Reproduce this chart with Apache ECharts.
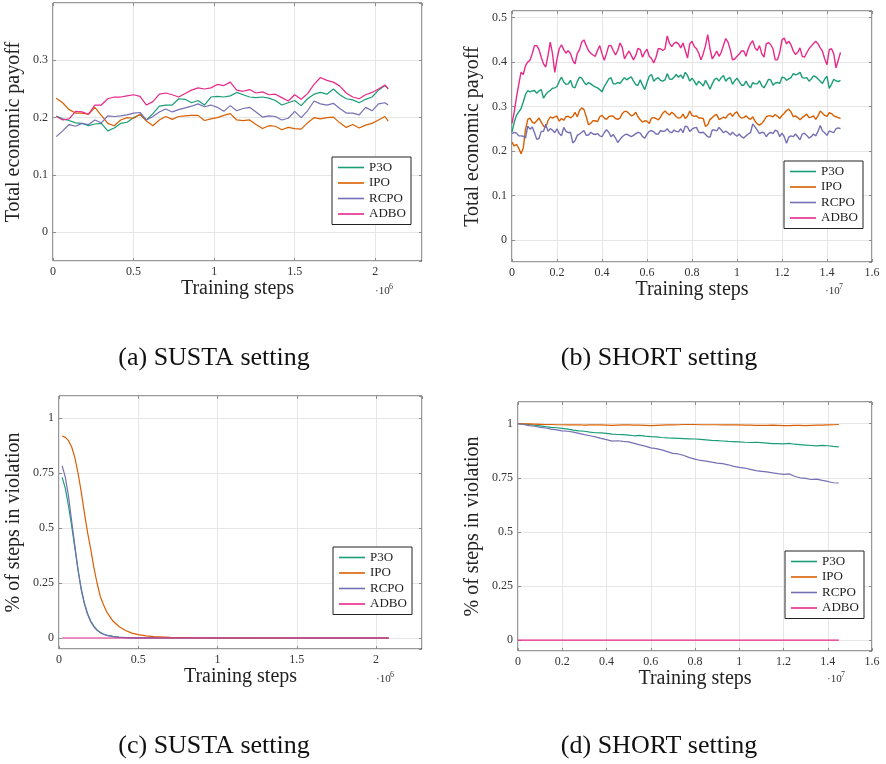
<!DOCTYPE html>
<html>
<head>
<meta charset="utf-8">
<script src="https://cdn.jsdelivr.net/npm/echarts@6/dist/echarts.min.js"></script>
<style>
  html, body { margin: 0; padding: 0; background: #fff; }
  #chart { width: 886px; height: 764px; }
</style>
</head>
<body>
<div id="chart"></div>
<script>
// (a) SUSTA - payoff, x in 1e6 steps
var sustaSteps = [0.02, 0.06, 0.10, 0.14, 0.18, 0.22, 0.26, 0.30, 0.34, 0.38, 0.42, 0.46, 0.50, 0.54, 0.58, 0.62, 0.66, 0.70, 0.74, 0.78,
  0.82, 0.86, 0.90, 0.94, 0.98, 1.02, 1.06, 1.10, 1.14, 1.18, 1.22, 1.26, 1.30, 1.34, 1.38, 1.42, 1.46, 1.50, 1.54, 1.58,
  1.62, 1.66, 1.70, 1.74, 1.78, 1.82, 1.86, 1.90, 1.94, 1.98, 2.02, 2.06, 2.08];
var sustaPayP3O = [0.203, 0.198, 0.195, 0.191, 0.190, 0.186, 0.189, 0.190, 0.177, 0.182, 0.190, 0.192, 0.200, 0.205, 0.196, 0.207, 0.220, 0.222, 0.222, 0.233,
  0.232, 0.226, 0.230, 0.222, 0.236, 0.237, 0.236, 0.238, 0.244, 0.240, 0.236, 0.235, 0.236, 0.234, 0.230, 0.222, 0.226, 0.230, 0.221, 0.233,
  0.241, 0.244, 0.241, 0.250, 0.240, 0.233, 0.231, 0.226, 0.232, 0.236, 0.248, 0.256, 0.251];
var sustaPayIPO = [0.234, 0.226, 0.214, 0.208, 0.208, 0.206, 0.218, 0.204, 0.190, 0.186, 0.196, 0.200, 0.199, 0.206, 0.194, 0.186, 0.196, 0.202, 0.197, 0.202,
  0.203, 0.204, 0.204, 0.195, 0.198, 0.200, 0.204, 0.207, 0.196, 0.195, 0.196, 0.188, 0.181, 0.186, 0.185, 0.179, 0.183, 0.181, 0.180, 0.191,
  0.200, 0.198, 0.200, 0.201, 0.191, 0.183, 0.188, 0.182, 0.187, 0.190, 0.196, 0.202, 0.194];
var sustaPayRCPO = [0.167, 0.177, 0.188, 0.185, 0.190, 0.188, 0.196, 0.191, 0.203, 0.202, 0.203, 0.205, 0.208, 0.209, 0.196, 0.202, 0.210, 0.215, 0.210, 0.214,
  0.217, 0.220, 0.224, 0.219, 0.222, 0.218, 0.211, 0.221, 0.212, 0.216, 0.218, 0.210, 0.201, 0.203, 0.202, 0.196, 0.199, 0.211, 0.200, 0.212,
  0.229, 0.224, 0.222, 0.225, 0.216, 0.208, 0.208, 0.205, 0.218, 0.212, 0.224, 0.226, 0.222];
var sustaPayADBO = [0.202, 0.196, 0.198, 0.211, 0.210, 0.206, 0.222, 0.222, 0.233, 0.236, 0.236, 0.238, 0.240, 0.237, 0.222, 0.228, 0.241, 0.243, 0.240, 0.236,
  0.242, 0.248, 0.252, 0.250, 0.252, 0.258, 0.256, 0.262, 0.248, 0.246, 0.249, 0.243, 0.245, 0.240, 0.241, 0.235, 0.229, 0.240, 0.232, 0.242,
  0.258, 0.270, 0.265, 0.262, 0.255, 0.243, 0.236, 0.233, 0.240, 0.244, 0.250, 0.257, 0.250];

// (b) SHORT - payoff, x in 1e7 steps
var shortSteps = [
  0.00, 0.01, 0.02, 0.03, 0.04, 0.05, 0.06, 0.07, 0.08, 0.09,
  0.10, 0.11, 0.12, 0.13, 0.14, 0.15, 0.16, 0.17, 0.18, 0.19,
  0.20, 0.21, 0.22, 0.23, 0.24, 0.25, 0.26, 0.27, 0.28, 0.29,
  0.30, 0.31, 0.32, 0.33, 0.34, 0.35, 0.36, 0.37, 0.38, 0.39,
  0.40, 0.41, 0.42, 0.43, 0.44, 0.45, 0.46, 0.47, 0.48, 0.49,
  0.50, 0.51, 0.52, 0.53, 0.54, 0.55, 0.56, 0.57, 0.58, 0.59,
  0.60, 0.61, 0.62, 0.63, 0.64, 0.65, 0.66, 0.67, 0.68, 0.69,
  0.70, 0.71, 0.72, 0.73, 0.74, 0.75, 0.76, 0.77, 0.78, 0.79,
  0.80, 0.81, 0.82, 0.83, 0.84, 0.85, 0.86, 0.87, 0.88, 0.89,
  0.90, 0.91, 0.92, 0.93, 0.94, 0.95, 0.96, 0.97, 0.98, 0.99,
  1.00, 1.01, 1.02, 1.03, 1.04, 1.05, 1.06, 1.07, 1.08, 1.09,
  1.10, 1.11, 1.12, 1.13, 1.14, 1.15, 1.16, 1.17, 1.18, 1.19,
  1.20, 1.21, 1.22, 1.23, 1.24, 1.25, 1.26, 1.27, 1.28, 1.29,
  1.30, 1.31, 1.32, 1.33, 1.34, 1.35, 1.36, 1.37, 1.38, 1.39,
  1.40, 1.41, 1.42, 1.43, 1.44, 1.45, 1.46];
var shortPayP3O = [
  0.243, 0.265, 0.280, 0.288, 0.295, 0.310, 0.327, 0.336, 0.333, 0.335,
  0.336, 0.330, 0.335, 0.338, 0.319, 0.327, 0.333, 0.336, 0.341, 0.342,
  0.345, 0.357, 0.366, 0.355, 0.350, 0.351, 0.359, 0.344, 0.342, 0.356,
  0.366, 0.364, 0.355, 0.349, 0.354, 0.351, 0.347, 0.344, 0.342, 0.338,
  0.333, 0.345, 0.353, 0.362, 0.365, 0.351, 0.351, 0.354, 0.352, 0.359,
  0.365, 0.360, 0.364, 0.367, 0.357, 0.349, 0.348, 0.360, 0.348, 0.338,
  0.354, 0.368, 0.372, 0.357, 0.362, 0.365, 0.359, 0.357, 0.360, 0.374,
  0.362, 0.361, 0.366, 0.372, 0.366, 0.371, 0.363, 0.377, 0.370, 0.357,
  0.364, 0.357, 0.348, 0.357, 0.352, 0.346, 0.359, 0.350, 0.339, 0.351,
  0.361, 0.364, 0.357, 0.365, 0.370, 0.357, 0.363, 0.365, 0.350, 0.358,
  0.364, 0.356, 0.348, 0.348, 0.357, 0.348, 0.342, 0.354, 0.351, 0.351,
  0.358, 0.347, 0.342, 0.351, 0.361, 0.360, 0.348, 0.353, 0.354, 0.352,
  0.366, 0.365, 0.359, 0.362, 0.365, 0.374, 0.371, 0.373, 0.377, 0.365,
  0.364, 0.365, 0.357, 0.362, 0.369, 0.367, 0.362, 0.357, 0.352, 0.362,
  0.368, 0.341, 0.350, 0.361, 0.358, 0.356, 0.359];
var shortPayIPO = [
  0.220, 0.211, 0.215, 0.206, 0.194, 0.206, 0.248, 0.271, 0.274, 0.265,
  0.262, 0.268, 0.274, 0.265, 0.256, 0.253, 0.268, 0.277, 0.274, 0.277,
  0.278, 0.267, 0.273, 0.269, 0.277, 0.278, 0.274, 0.278, 0.287, 0.277,
  0.291, 0.297, 0.293, 0.277, 0.259, 0.262, 0.268, 0.268, 0.266, 0.277,
  0.280, 0.274, 0.271, 0.277, 0.279, 0.278, 0.273, 0.271, 0.274, 0.284,
  0.289, 0.289, 0.284, 0.279, 0.281, 0.287, 0.277, 0.270, 0.265, 0.268,
  0.267, 0.262, 0.274, 0.275, 0.273, 0.270, 0.276, 0.285, 0.290, 0.285,
  0.281, 0.287, 0.283, 0.277, 0.274, 0.275, 0.283, 0.273, 0.278, 0.290,
  0.280, 0.278, 0.279, 0.274, 0.274, 0.273, 0.255, 0.259, 0.271, 0.275,
  0.280, 0.282, 0.271, 0.273, 0.276, 0.274, 0.281, 0.285, 0.278, 0.285,
  0.288, 0.278, 0.274, 0.275, 0.279, 0.274, 0.271, 0.277, 0.267, 0.261,
  0.258, 0.262, 0.268, 0.277, 0.279, 0.279, 0.277, 0.282, 0.278, 0.273,
  0.280, 0.285, 0.291, 0.294, 0.288, 0.277, 0.279, 0.275, 0.270, 0.275,
  0.279, 0.283, 0.275, 0.276, 0.279, 0.271, 0.279, 0.290, 0.285, 0.280,
  0.278, 0.286, 0.284, 0.279, 0.277, 0.275, 0.273];
var shortPayRCPO = [
  0.239, 0.242, 0.240, 0.234, 0.234, 0.233, 0.229, 0.256, 0.249, 0.254,
  0.241, 0.226, 0.228, 0.244, 0.244, 0.260, 0.244, 0.250, 0.247, 0.241,
  0.250, 0.239, 0.234, 0.253, 0.244, 0.241, 0.242, 0.218, 0.223, 0.235,
  0.238, 0.242, 0.246, 0.235, 0.236, 0.242, 0.238, 0.237, 0.239, 0.234,
  0.232, 0.241, 0.248, 0.242, 0.232, 0.237, 0.229, 0.219, 0.226, 0.232,
  0.236, 0.238, 0.235, 0.232, 0.235, 0.239, 0.242, 0.240, 0.232, 0.229,
  0.238, 0.244, 0.246, 0.243, 0.238, 0.238, 0.246, 0.244, 0.245, 0.250,
  0.243, 0.241, 0.247, 0.244, 0.243, 0.250, 0.241, 0.256, 0.254, 0.244,
  0.249, 0.252, 0.253, 0.242, 0.241, 0.242, 0.237, 0.232, 0.231, 0.247,
  0.247, 0.245, 0.253, 0.247, 0.241, 0.245, 0.241, 0.236, 0.242, 0.237,
  0.233, 0.238, 0.232, 0.229, 0.234, 0.238, 0.241, 0.261, 0.254, 0.247,
  0.239, 0.242, 0.241, 0.232, 0.239, 0.242, 0.239, 0.247, 0.244, 0.232,
  0.240, 0.232, 0.217, 0.231, 0.234, 0.232, 0.238, 0.232, 0.225, 0.238,
  0.240, 0.235, 0.229, 0.232, 0.238, 0.234, 0.244, 0.257, 0.245, 0.241,
  0.235, 0.245, 0.243, 0.241, 0.250, 0.252, 0.250];
var shortPayADBO = [
  0.262, 0.288, 0.321, 0.350, 0.377, 0.372, 0.392, 0.400, 0.404, 0.419,
  0.437, 0.437, 0.428, 0.411, 0.396, 0.389, 0.415, 0.445, 0.419, 0.377,
  0.407, 0.430, 0.439, 0.428, 0.420, 0.426, 0.419, 0.404, 0.396, 0.419,
  0.428, 0.445, 0.450, 0.437, 0.426, 0.420, 0.416, 0.413, 0.426, 0.437,
  0.419, 0.404, 0.419, 0.437, 0.437, 0.426, 0.416, 0.426, 0.443, 0.433,
  0.407, 0.417, 0.425, 0.415, 0.405, 0.415, 0.431, 0.428, 0.411, 0.422,
  0.429, 0.413, 0.408, 0.398, 0.411, 0.430, 0.430, 0.426, 0.430, 0.459,
  0.442, 0.435, 0.442, 0.445, 0.441, 0.432, 0.443, 0.426, 0.409, 0.441,
  0.447, 0.435, 0.430, 0.420, 0.405, 0.419, 0.437, 0.462, 0.430, 0.407,
  0.415, 0.425, 0.413, 0.422, 0.438, 0.453, 0.445, 0.428, 0.405, 0.407,
  0.413, 0.418, 0.425, 0.425, 0.413, 0.430, 0.442, 0.448, 0.432, 0.426,
  0.437, 0.419, 0.411, 0.441, 0.444, 0.439, 0.430, 0.405, 0.405, 0.422,
  0.450, 0.454, 0.441, 0.447, 0.439, 0.425, 0.417, 0.422, 0.432, 0.413,
  0.411, 0.421, 0.430, 0.436, 0.442, 0.447, 0.441, 0.432, 0.424, 0.407,
  0.394, 0.428, 0.430, 0.419, 0.387, 0.404, 0.422];

// (c) SUSTA - violations
var sustaViolSteps = [0.02, 0.04, 0.06, 0.08, 0.10, 0.12, 0.14, 0.16, 0.18, 0.20, 0.22, 0.24, 0.26, 0.28, 0.30,
  0.34, 0.38, 0.42, 0.46, 0.50, 0.55, 0.60, 0.70, 0.80, 1.0, 1.2, 1.5, 1.8, 2.08];
var sustaViolP3O = [0.730, 0.680, 0.600, 0.510, 0.410, 0.310, 0.225, 0.160, 0.112, 0.077, 0.054, 0.037, 0.026, 0.018, 0.013,
  0.007, 0.004, 0.002, 0.001, 0.0007, 0.0004, 0.0002, 0.0001, 0, 0, 0, 0, 0, 0];
var sustaViolIPO = [0.918, 0.912, 0.897, 0.868, 0.820, 0.750, 0.665, 0.570, 0.480, 0.405, 0.320, 0.250, 0.190, 0.152, 0.120,
  0.077, 0.051, 0.034, 0.022, 0.015, 0.010, 0.006, 0.003, 0.0015, 0.0007, 0.0003, 0.0001, 0, 0];
var sustaViolRCPO = [0.782, 0.730, 0.645, 0.530, 0.420, 0.310, 0.220, 0.155, 0.108, 0.074, 0.051, 0.035, 0.024, 0.017, 0.012,
  0.006, 0.003, 0.0015, 0.001, 0.0005, 0.0003, 0.0001, 0, 0, 0, 0, 0, 0, 0];
var sustaViolADBO = [0, 0, 0, 0, 0, 0, 0, 0, 0, 0, 0, 0, 0, 0, 0,
  0, 0, 0, 0, 0, 0, 0, 0, 0, 0, 0, 0, 0, 0];

// (d) SHORT - violations
var shortViolSteps = [
  0.000, 0.025, 0.050, 0.075, 0.100, 0.125, 0.150, 0.175, 0.200, 0.225,
  0.250, 0.275, 0.300, 0.325, 0.350, 0.375, 0.400, 0.425, 0.450, 0.475,
  0.500, 0.525, 0.550, 0.575, 0.600, 0.625, 0.650, 0.675, 0.700, 0.725,
  0.750, 0.775, 0.800, 0.825, 0.850, 0.875, 0.900, 0.925, 0.950, 0.975,
  1.000, 1.025, 1.050, 1.075, 1.100, 1.125, 1.150, 1.175, 1.200, 1.225,
  1.250, 1.275, 1.300, 1.325, 1.350, 1.375, 1.400, 1.425, 1.450];
var shortViolP3O = [
  1.000, 0.998, 0.996, 0.993, 0.990, 0.986, 0.983, 0.981, 0.978, 0.975,
  0.970, 0.967, 0.965, 0.961, 0.958, 0.957, 0.955, 0.952, 0.950, 0.949,
  0.947, 0.944, 0.946, 0.942, 0.940, 0.939, 0.936, 0.934, 0.933, 0.932,
  0.931, 0.930, 0.929, 0.927, 0.925, 0.923, 0.922, 0.920, 0.918, 0.917,
  0.916, 0.914, 0.913, 0.914, 0.912, 0.910, 0.908, 0.908, 0.907, 0.909,
  0.905, 0.903, 0.901, 0.899, 0.897, 0.900, 0.898, 0.895, 0.893];
var shortViolIPO = [
  1.000, 0.999, 0.999, 0.998, 0.997, 0.996, 0.996, 0.995, 0.995, 0.994,
  0.994, 0.995, 0.993, 0.994, 0.995, 0.994, 0.993, 0.992, 0.993, 0.994,
  0.994, 0.993, 0.993, 0.992, 0.991, 0.992, 0.993, 0.994, 0.994, 0.995,
  0.996, 0.996, 0.996, 0.995, 0.995, 0.995, 0.995, 0.994, 0.994, 0.994,
  0.994, 0.993, 0.993, 0.992, 0.992, 0.992, 0.993, 0.992, 0.991, 0.991,
  0.992, 0.992, 0.991, 0.992, 0.993, 0.993, 0.994, 0.995, 0.996];
var shortViolRCPO = [
  1.000, 0.996, 0.991, 0.988, 0.983, 0.980, 0.975, 0.971, 0.967, 0.965,
  0.961, 0.955, 0.949, 0.944, 0.939, 0.932, 0.926, 0.919, 0.921, 0.918,
  0.916, 0.909, 0.902, 0.896, 0.888, 0.885, 0.879, 0.871, 0.863, 0.860,
  0.853, 0.843, 0.836, 0.830, 0.827, 0.822, 0.818, 0.815, 0.810, 0.803,
  0.798, 0.795, 0.789, 0.783, 0.780, 0.777, 0.773, 0.769, 0.766, 0.768,
  0.757, 0.750, 0.747, 0.742, 0.744, 0.738, 0.733, 0.727, 0.726];
var shortViolADBO = [
  0, 0, 0, 0, 0, 0, 0, 0, 0, 0,
  0, 0, 0, 0, 0, 0, 0, 0, 0, 0,
  0, 0, 0, 0, 0, 0, 0, 0, 0, 0,
  0, 0, 0, 0, 0, 0, 0, 0, 0, 0,
  0, 0, 0, 0, 0, 0, 0, 0, 0, 0,
  0, 0, 0, 0, 0, 0, 0, 0, 0];

var methods = ['P3O', 'IPO', 'RCPO', 'ADBO'];
var methodColors = ['#1b9e77', '#d95f02', '#7570b3', '#e7298a'];
var serif = '"Liberation Serif", "Times New Roman", serif';

var panels = [
  { steps: sustaSteps, values: [sustaPayP3O, sustaPayIPO, sustaPayRCPO, sustaPayADBO],
    box: [53, 3, 369, 258], xMax: 2.29, xStep: 0.5, yMin: -0.05, yMax: 0.4, yStep: 0.1,
    yName: 'Total economic payoff', yGap: 29, legend: [332, 157], lineW: 1.2,
    caption: '(a) SUSTA setting', capPos: [214, 358], power: '6', powPos: [375, 286] },
  { steps: shortSteps, values: [shortPayP3O, shortPayIPO, shortPayRCPO, shortPayADBO],
    box: [512, 11, 360, 251], xMax: 1.6, xStep: 0.2, yMin: -0.05, yMax: 0.515, yStep: 0.1,
    yName: 'Total economic payoff', yGap: 29, legend: [784, 161], lineW: 1.4,
    caption: '(b) SHORT setting', capPos: [659, 358], power: '7', powPos: [825, 286] },
  { steps: sustaViolSteps, values: [sustaViolP3O, sustaViolIPO, sustaViolRCPO, sustaViolADBO],
    box: [59, 396, 363, 253], xMax: 2.29, xStep: 0.5, yMin: -0.05, yMax: 1.1, yStep: 0.25,
    yName: '% of steps in violation', yGap: 35, legend: [333, 547], lineW: 1.2,
    caption: '(c) SUSTA setting', capPos: [214, 746], power: '6', powPos: [376, 674] },
  { steps: shortViolSteps, values: [shortViolP3O, shortViolIPO, shortViolRCPO, shortViolADBO],
    box: [518, 402, 354, 249], xMax: 1.6, xStep: 0.2, yMin: -0.05, yMax: 1.1, yStep: 0.25,
    yName: '% of steps in violation', yGap: 35, legend: [785, 551], lineW: 1.2,
    caption: '(d) SHORT setting', capPos: [659, 746], power: '7', powPos: [827, 674] }
];

function pairs(xs, ys) {
  return xs.map(function (x, i) { return [x, ys[i]]; });
}

var tick = { inside: true, length: 3, lineStyle: { color: '#777', width: 0.8 } };
var noLine = { show: false, onZero: false };
var grids = [], xAxes = [], yAxes = [], series = [], legends = [], graphics = [];

panels.forEach(function (p, i) {
  grids.push({
    left: p.box[0], top: p.box[1], width: p.box[2], height: p.box[3],
    containLabel: false, outerBoundsMode: 'none',
    show: true, borderColor: '#333', borderWidth: 1, backgroundColor: 'transparent'
  });
  xAxes[i] = {
    type: 'value', gridIndex: i, position: 'bottom', min: 0, max: p.xMax, interval: p.xStep,
    name: 'Training steps', nameLocation: 'middle', nameGap: 17,
    nameTextStyle: { fontFamily: serif, fontSize: 20, color: '#222' },
    axisLine: noLine, axisTick: tick,
    axisLabel: { fontFamily: serif, fontSize: 12, color: '#333', margin: 5, showMaxLabel: p.xMax === 1.6 },
    splitLine: { show: true, lineStyle: { color: '#e6e6e6', width: 1 } }
  };
  xAxes[i + 4] = {
    type: 'value', gridIndex: i, position: 'top', min: 0, max: p.xMax, interval: p.xStep,
    axisLine: noLine, axisTick: tick, axisLabel: { show: false }, splitLine: { show: false }
  };
  yAxes[i] = {
    type: 'value', gridIndex: i, position: 'left', min: p.yMin, max: p.yMax,
    minInterval: p.yStep, maxInterval: p.yStep,
    name: p.yName, nameLocation: 'middle', nameGap: p.yGap, nameRotate: 90,
    nameTextStyle: { fontFamily: serif, fontSize: 20, color: '#222' },
    axisLine: noLine, axisTick: tick,
    axisLabel: { fontFamily: serif, fontSize: 12, color: '#333', margin: 5, showMinLabel: false, showMaxLabel: false },
    splitLine: { show: true, lineStyle: { color: '#e6e6e6', width: 1 } }
  };
  yAxes[i + 4] = {
    type: 'value', gridIndex: i, position: 'right', min: p.yMin, max: p.yMax,
    minInterval: p.yStep, maxInterval: p.yStep,
    axisLine: noLine, axisTick: tick, axisLabel: { show: false }, splitLine: { show: false }
  };
  methods.forEach(function (m, k) {
    series.push({
      name: m, type: 'line', xAxisIndex: i, yAxisIndex: i,
      data: pairs(p.steps, p.values[k]),
      symbol: 'none', showSymbol: false, animation: false,
      lineStyle: { color: methodColors[k], width: p.lineW },
      itemStyle: { color: methodColors[k] }
    });
  });
  legends.push({
    data: methods, orient: 'vertical', left: p.legend[0], top: p.legend[1],
    icon: 'rect', itemWidth: 26, itemHeight: 1.6, itemGap: 2.5,
    padding: [4, 5, 4, 6], borderColor: '#222', borderWidth: 1, backgroundColor: '#fff',
    selectedMode: false,
    textStyle: { fontFamily: serif, fontSize: 13, color: '#222', lineHeight: 12, width: 37, align: 'center' }
  });
  graphics.push({
    type: 'text', x: p.capPos[0], y: p.capPos[1],
    style: { text: p.caption, font: '26px ' + serif, fill: '#111',
      textAlign: 'center', align: 'center', textVerticalAlign: 'middle', verticalAlign: 'middle' }
  });
  graphics.push({
    type: 'text', x: p.powPos[0], y: p.powPos[1],
    style: { text: '\u00b710', font: '11px ' + serif, fill: '#333' }
  });
  graphics.push({
    type: 'text', x: p.powPos[0] + 14, y: p.powPos[1] - 3,
    style: { text: p.power, font: '8px ' + serif, fill: '#333' }
  });
});

var myChart = echarts.init(document.getElementById('chart'), null, { renderer: 'canvas' });
myChart.setOption({
  backgroundColor: '#fff',
  animation: false,
  grid: grids,
  xAxis: xAxes,
  yAxis: yAxes,
  legend: legends,
  series: series,
  graphic: graphics
});
</script>
</body>
</html>
